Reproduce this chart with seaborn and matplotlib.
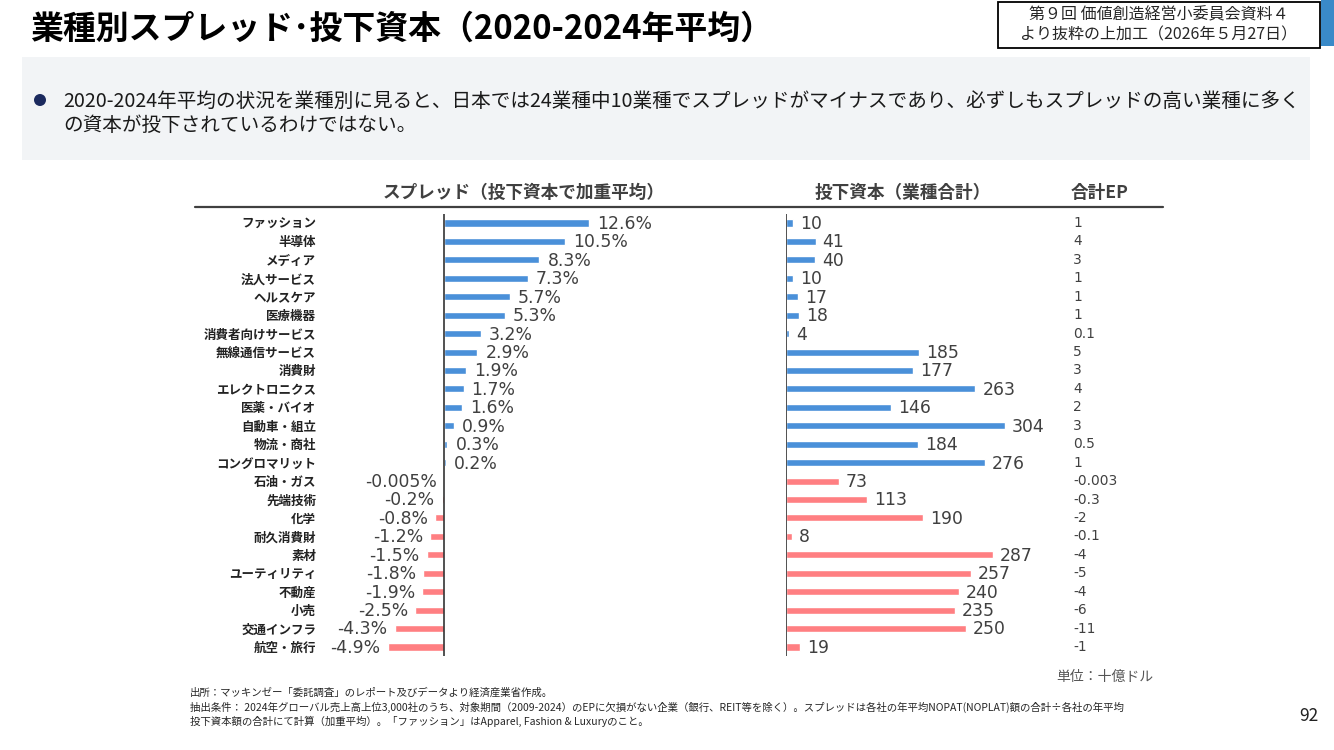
import matplotlib
matplotlib.use("Agg")
import matplotlib.pyplot as plt
from matplotlib.patches import Rectangle, Ellipse
import seaborn as sns

sns.set_style("white")
plt.rcParams['font.family'] = ['Noto Sans CJK JP', 'DejaVu Sans']

# data
categories = ["ファッション", "半導体", "メディア", "法人サービス", "ヘルスケア", "医療機器",
              "消費者向けサービス", "無線通信サービス", "消費財", "エレクトロニクス", "医薬・バイオ",
              "自動車・組立", "物流・商社", "コングロマリット", "石油・ガス", "先端技術", "化学",
              "耐久消費財", "素材", "ユーティリティ", "不動産", "小売", "交通インフラ", "航空・旅行"]
spread = [12.6, 10.5, 8.3, 7.3, 5.7, 5.3, 3.2, 2.9, 1.9, 1.7, 1.6, 0.9, 0.3, 0.2,
          -0.005, -0.2, -0.8, -1.2, -1.5, -1.8, -1.9, -2.5, -4.3, -4.9]
spread_text = ["12.6%", "10.5%", "8.3%", "7.3%", "5.7%", "5.3%", "3.2%", "2.9%", "1.9%", "1.7%",
               "1.6%", "0.9%", "0.3%", "0.2%", "-0.005%", "-0.2%", "-0.8%", "-1.2%", "-1.5%",
               "-1.8%", "-1.9%", "-2.5%", "-4.3%", "-4.9%"]
capital = [10, 41, 40, 10, 17, 18, 4, 185, 177, 263, 146, 304, 184, 276,
           73, 113, 190, 8, 287, 257, 240, 235, 250, 19]
ep_text = ["1", "4", "3", "1", "1", "1", "0.1", "5", "3", "4", "2", "3", "0.5", "1",
           "-0.003", "-0.3", "-2", "-0.1", "-4", "-5", "-4", "-6", "-11", "-1"]

BLUE = "#4A90D9"
PINK = "#FF7F82"
TXT = "#404040"
colors = {c: (BLUE if s > 0 else PINK) for c, s in zip(categories, spread)}

W, H = 1334, 750
fig = plt.figure(figsize=(W / 100, H / 100), dpi=100)

def axes_px(x0, y0, x1, y1):
    return fig.add_axes([x0 / W, 1 - y1 / H, (x1 - x0) / W, (y1 - y0) / H])

def ftext(x, y, s, **kw):
    return fig.text(x / W, 1 - y / H, s, **kw)

# header area
ftext(30, 29, "業種別スプレッド･投下資本（2020-2024年平均）", fontsize=23.7, fontweight="bold",
      va="center", ha="left", color="black")
fig.patches.append(Rectangle((998 / W, 1 - 48 / H), 322 / W, 46 / H, transform=fig.transFigure,
                             facecolor="white", edgecolor="black", lw=1.3))
fig.patches.append(Rectangle((1321 / W, 1 - 46 / H), 13 / W, 46 / H, transform=fig.transFigure,
                             facecolor="#3a8ac8", edgecolor="none"))
ftext(1159, 15, "第９回 価値創造経営小委員会資料４", fontsize=11.5, ha="center", va="center")
ftext(1159, 35, "より抜粋の上加工（2026年５月27日）", fontsize=11.5, ha="center", va="center")

fig.patches.append(Rectangle((22 / W, 1 - 160 / H), 1288 / W, 103 / H, transform=fig.transFigure,
                             facecolor="#f2f4f6", edgecolor="none"))
fig.patches.append(Ellipse((40 / W, 1 - 100 / H), 12 / W, 12 / H, transform=fig.transFigure,
                           facecolor="#1b2a5e", edgecolor="none"))
ftext(63, 101, "2020-2024年平均の状況を業種別に見ると、日本では24業種中10業種でスプレッドがマイナスであり、必ずしもスプレッドの高い業種に多く",
      fontsize=14.1, va="center", ha="left", color="#1a1a1a")
ftext(63, 125, "の資本が投下されているわけではない。", fontsize=14.1, va="center", ha="left", color="#1a1a1a")

# column headers
ftext(524, 193, "スプレッド（投下資本で加重平均）", fontsize=12.7, fontweight="bold", ha="center", va="center", color=TXT)
ftext(903, 193, "投下資本（業種合計）", fontsize=12.7, fontweight="bold", ha="center", va="center", color=TXT)
ftext(1100, 193, "合計EP", fontsize=12.7, fontweight="bold", ha="center", va="center", color=TXT)
fig.add_artist(plt.Line2D([195 / W, 1163 / W], [1 - 207 / H, 1 - 207 / H], color="#404040", lw=1.6))

# y range shared by both panels
row_px = (647 - 223) / 23
ytop = -(223 - 214) / row_px
ybot = 23 + (656 - 647) / row_px

# left panel: spread
sx = 11.5  # px per %
ax1 = axes_px(330, 214, 700, 656)
sns.barplot(x=spread, y=categories, hue=categories, palette=colors, legend=False,
            orient="h", width=0.38, saturation=1, ax=ax1)
ax1.set_xlim((330 - 444) / sx, (700 - 444) / sx)
ax1.set_ylim(ybot, ytop)
ax1.axvline(0, color="#333333", lw=1.2)
for sp in ax1.spines.values():
    sp.set_visible(False)
ax1.set_xticks([])
ax1.set_xlabel("")
ax1.set_ylabel("")
ax1.tick_params(axis="y", length=0, pad=10, labelsize=9, labelcolor="#222222")
for lbl in ax1.get_yticklabels():
    lbl.set_fontweight("bold")
for i, (v, t) in enumerate(zip(spread, spread_text)):
    if v > 0:
        ax1.text(v + 8 / sx, i + 0.05, t, ha="left", va="center", fontsize=12.4, color=TXT, family="DejaVu Sans")
    else:
        ax1.text(v - 7 / sx, i + 0.05, t, ha="right", va="center", fontsize=12.4, color=TXT, family="DejaVu Sans")

# right panel: invested capital
cx = 0.72  # px per unit
ax2 = axes_px(786, 214, 1060, 656)
sns.barplot(x=capital, y=categories, hue=categories, palette=colors, legend=False,
            orient="h", width=0.38, saturation=1, ax=ax2)
ax2.set_xlim(0, (1060 - 786) / cx)
ax2.set_ylim(ybot, ytop)
ax2.axvline(0, color="#333333", lw=1.2)
for sp in ax2.spines.values():
    sp.set_visible(False)
ax2.set_xticks([])
ax2.set_yticks([])
ax2.set_xlabel("")
ax2.set_ylabel("")
for i, v in enumerate(capital):
    ax2.text(v + 7 / cx, i + 0.05, str(v), ha="left", va="center", fontsize=12.4, color=TXT, family="DejaVu Sans")

# EP column
for i, t in enumerate(ep_text):
    ftext(1073, 223 + i * row_px, t, fontsize=9.9, ha="left", va="center", color=TXT, family="DejaVu Sans")

# footer
ftext(1153, 677, "単位：十億ドル", fontsize=10, ha="right", va="center", color="#555555")
ftext(190, 693, "出所：マッキンゼー「委託調査」のレポート及びデータより経済産業省作成。", fontsize=7.5, va="center")
ftext(190, 707, "抽出条件： 2024年グローバル売上高上位3,000社のうち、対象期間（2009-2024）のEPに欠損がない企業（銀行、REIT等を除く）。スプレッドは各社の年平均NOPAT(NOPLAT)額の合計÷各社の年平均",
      fontsize=7.5, va="center")
ftext(190, 721, "投下資本額の合計にて計算（加重平均）。「ファッション」はApparel, Fashion & Luxuryのこと。", fontsize=7.5, va="center")
ftext(1318, 716, "92", fontsize=12.5, ha="right", va="center", color="#222222")

fig.savefig("out.png", dpi=100)
